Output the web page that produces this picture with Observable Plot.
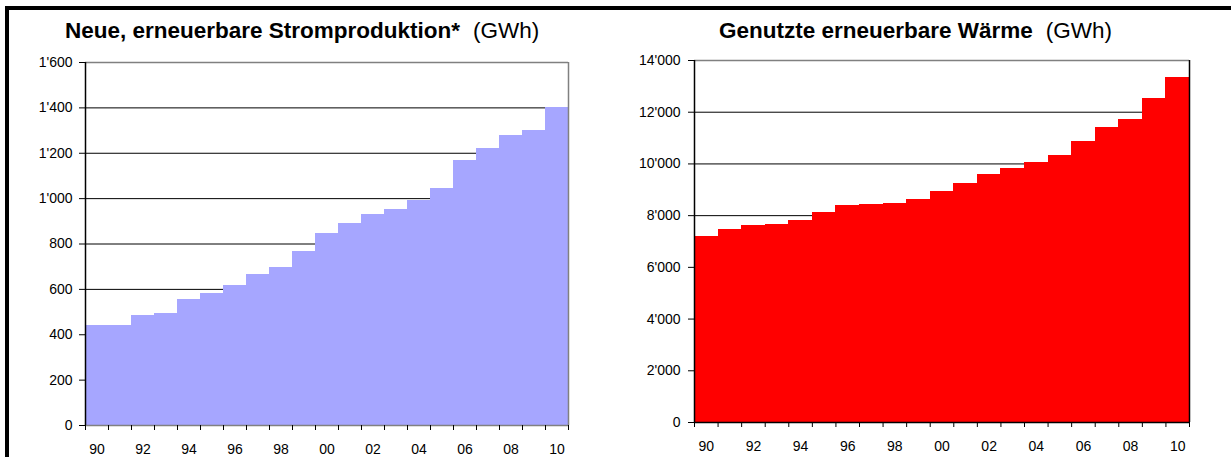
<!DOCTYPE html>
<html>
<head>
<meta charset="utf-8">
<script src="https://cdn.jsdelivr.net/npm/d3@7"></script>
<script src="https://cdn.jsdelivr.net/npm/@observablehq/plot@0.6"></script>
<style>
  body { margin: 0; background: #fff; font-family: "Liberation Sans", Arial, sans-serif; }
  #wrap { position: relative; width: 1231px; height: 457px; overflow: hidden; background: #fff; }
  #frame { position: absolute; left: 5px; top: 6px; width: 1300px; height: 500px;
           border-left: 4px solid #000; border-top: 4px solid #000; }
  .panel { position: absolute; top: 0; }
  .title { position: absolute; top: 18px; font-size: 22.5px; white-space: nowrap; color: #000; }
  .title b { font-weight: bold; }
  .title span { margin-left: 13px; }
</style>
</head>
<body>
<div id="wrap">
  <div id="frame"></div>
  <div class="title" style="left:65px"><b>Neue, erneuerbare Stromproduktion*</b><span>(GWh)</span></div>
  <div class="title" style="left:719px"><b>Genutzte erneuerbare Wärme</b><span>(GWh)</span></div>
  <div class="panel" id="strom" style="left:0px"></div>
  <div class="panel" id="waerme" style="left:610px"></div>
</div>
<script>
// Jahre 1990–2010
const years = [1990, 1991, 1992, 1993, 1994, 1995, 1996, 1997, 1998, 1999, 2000,
               2001, 2002, 2003, 2004, 2005, 2006, 2007, 2008, 2009, 2010];

// Neue, erneuerbare Stromproduktion (GWh)
const stromValues = [440, 440, 485, 495, 555, 580, 615, 665, 695, 765, 845,
                     890, 930, 950, 990, 1045, 1170, 1220, 1280, 1300, 1400];

// Genutzte erneuerbare Wärme (GWh)
const waermeValues = [7200, 7450, 7620, 7660, 7820, 8120, 8400, 8430, 8470, 8630, 8940,
                      9250, 9600, 9830, 10060, 10330, 10870, 11410, 11720, 12530, 13340];

// Achsenbeschriftungen
const stromTicks = [0, 200, 400, 600, 800, 1000, 1200, 1400, 1600];
const waermeTicks = [0, 2000, 4000, 6000, 8000, 10000, 12000, 14000];
const yearLabels = [1990, 1992, 1994, 1996, 1998, 2000, 2002, 2004, 2006, 2008, 2010];

const ch = d3.formatLocale({decimal: ".", thousands: "'", grouping: [3], currency: ["", ""]});
const fmtY = ch.format(",");
const fmtYear = d => String(d % 100).padStart(2, "0");

// Bars span whole years, tick marks sit on the year boundaries
const bounds = years.map(y => y - 0.5).concat([years[years.length - 1] + 0.5]);
const xDomain = [bounds[0], bounds[bounds.length - 1]];

function chart({values, ticks, fill, width, margins, frameRight, bottomColor, yPad}) {
  const data = years.map((year, i) => ({year, value: values[i]}));
  const yMax = ticks[ticks.length - 1];
  return Plot.plot({
    width,
    height: 457,
    ...margins,
    style: {fontFamily: "'Liberation Sans', Arial, sans-serif", fontSize: "14px", color: "#000", background: "transparent"},
    x: {type: "linear", domain: xDomain, axis: null},
    y: {domain: [0, yMax], axis: null},
    marks: [
      Plot.ruleY(ticks.slice(1, -1), {stroke: "#000", strokeWidth: 1}),
      Plot.rectY(data, {x1: d => d.year - 0.5, x2: d => d.year + 0.5, y: "value", fill, shapeRendering: "crispEdges"}),
      Plot.ruleY([yMax], {stroke: "#808080", strokeWidth: 1.5}),
      Plot.ruleX([xDomain[1]], {stroke: frameRight, strokeWidth: 1.5}),
      Plot.ruleY([0], {stroke: bottomColor, strokeWidth: 1.5}),
      Plot.ruleX([xDomain[0]], {stroke: "#000", strokeWidth: 1.5}),
      Plot.axisY({ticks, tickSize: 6, tickPadding: yPad, tickFormat: fmtY, label: null, stroke: "#000", fontSize: 14}),
      Plot.axisX({ticks: bounds, tickSize: 5, tickFormat: () => "", label: null, stroke: "#000"}),
      Plot.axisX({ticks: yearLabels, tickSize: 0, tickPadding: 19, tickFormat: fmtYear, label: null, fontSize: 14})
    ]
  });
}

document.getElementById("strom").append(chart({
  values: stromValues, ticks: stromTicks, fill: "#a6a6ff", width: 615,
  margins: {marginLeft: 85, marginRight: 47, marginTop: 62, marginBottom: 32},
  frameRight: "#808080", bottomColor: "#808080", yPad: 7
}));

document.getElementById("waerme").append(chart({
  values: waermeValues, ticks: waermeTicks, fill: "#ff0000", width: 621,
  margins: {marginLeft: 84, marginRight: 42, marginTop: 60, marginBottom: 35},
  frameRight: "#000", bottomColor: "#000", yPad: 8
}));
</script>
</body>
</html>
